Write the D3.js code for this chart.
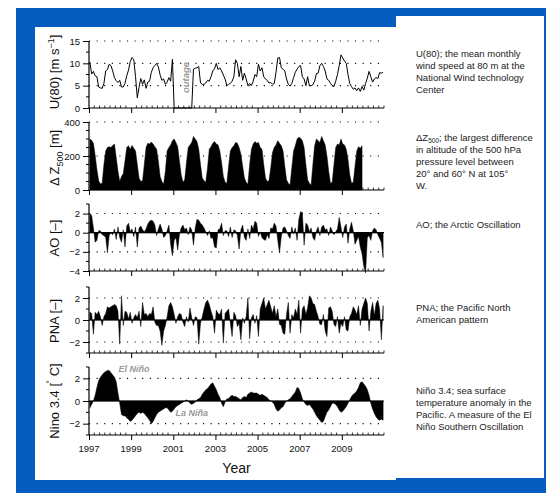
<!DOCTYPE html>
<html><head><meta charset="utf-8">
<script src="https://cdn.jsdelivr.net/npm/d3@7"></script>
<style>body{margin:0;background:#fff}svg{display:block;font-family:"Liberation Sans",Arial,Helvetica,sans-serif}</style>
</head><body><svg id="c" width="546" height="493"></svg>
<script>
// ---------------- data (monthly, Jan 1997 onward) ----------------
const startYear = 1997;
const xTickYears = [1997, 1999, 2001, 2003, 2005, 2007, 2009];

const u80 = [
 10.3, 7.6, 8.2, 7.2, 7.0, 4.7, 4.5, 4.4, 5.5, 8.3, 8.6, 9.8,
 9.5, 8.3, 6.8, 6.1, 5.7, 6.2, 4.7, 4.7, 5.5, 7.2, 8.5, 10.4,
 11.3, 10.8, 7.0, 2.3, 4.6, 6.6, 5.3, 6.3, 4.4, 5.8, 6.0, 8.0,
 9.0, 9.5, 10.0, 9.2, 7.4, 6.2, 6.5, 5.3, 5.8, 6.8, 6.0, 10.9,
 0, 0, 0, 0, 0, 0, 0, 0, 0, 0, 0, 8.7,
 8.9, 9.0, 9.3, 5.6, 5.3, 5.3, 5.6, 6.2, 6.0, 7.0, 8.3, 8.8,
 10.0, 8.6, 9.0, 8.3, 7.4, 6.5, 5.0, 5.3, 5.5, 6.0, 7.0, 10.8,
 10.0, 7.0, 9.3, 6.2, 7.8, 6.5, 5.0, 5.5, 5.0, 6.0, 7.5, 7.0,
 9.8, 8.3, 9.0, 7.0, 6.5, 6.2, 5.6, 5.7, 5.3, 5.5, 8.0, 11.2,
 11.3, 9.0, 8.7, 8.3, 6.5, 5.3, 4.9, 5.5, 6.8, 8.0, 8.7, 9.3,
 9.5, 7.0, 6.5, 5.0, 7.0, 5.0, 5.0, 5.2, 6.0, 7.7, 7.8, 9.5,
 10.0, 9.3, 8.3, 6.5, 6.2, 5.5, 5.0, 4.8, 6.0, 7.5, 9.5, 11.9,
 11.2, 10.5, 10.0, 7.5, 5.5, 4.8, 4.2, 4.5, 3.9, 4.5, 3.7, 4.8,
 4.0, 5.5, 6.7, 8.2, 7.0, 5.8, 6.5, 6.8, 6.6, 7.9, 7.8, 8.0
];

const dz500 = [
 300, 292, 275, 205, 120, 55, 35, 40, 150, 230, 250, 255,
 250, 262, 270, 190, 110, 50, 80, 95, 170, 250, 260, 240,
 262, 245, 230, 150, 70, 50, 55, 150, 250, 275, 270, 282,
 270, 255, 240, 170, 80, 50, 35, 110, 230, 250, 265, 290,
 300, 280, 255, 170, 90, 45, 60, 160, 250, 265, 280, 315,
 300, 285, 240, 150, 70, 55, 45, 130, 240, 255, 275, 285,
 270, 265, 230, 160, 80, 45, 40, 140, 230, 250, 260, 280,
 275, 250, 210, 140, 70, 45, 35, 150, 240, 270, 285, 275,
 280, 250, 240, 150, 70, 50, 55, 130, 220, 250, 265, 290,
 275, 260, 230, 140, 60, 40, 30, 130, 230, 260, 300, 310,
 305, 290, 250, 150, 60, 40, 30, 150, 260, 300, 290, 280,
 315, 290, 265, 200, 110, 40, 45, 150, 250, 270, 265, 300,
 270, 265, 240, 180, 90, 40, 45, 140, 230, 255, 245, 260
];

const ao = [
 2.0, 1.8, 0.5, -1.0, -0.8, 0.2, 0.2, -0.2, -0.3, -0.5,
 -2.1, -0.3, 0.0, -0.2, 0.4, -0.7, 0.6, -0.5, -1.0, 0.3,
 -1.5, 0.7, 1.0, 0.1, 0.4, -0.4, 0.6, -1.5, 0.5, 0.7,
 0.3, 0.1, 0.4, 0.9, 1.2, 1.3, 1.2, 0.8, -0.3, 0.4,
 0.9, 0.4, -0.5, -0.3, 0.2, 0.8, -1.2, -2.4, -0.8, -0.5,
 -1.8, -0.2, 0.5, 0.8, 0.3, 0.5, -0.2, 0.6, 0.3, -1.3,
 0.5, 1.4, 1.3, 1.0, 0.8, 0.5, 0.1, -0.3, 0.2, -0.6,
 -0.5, -1.5, -1.6, 0.3, 0.4, 1.0, -0.3, 0.2, 0.2, -0.4,
 0.6, -0.5, 0.3, 0.2, -0.3, -1.7, 0.3, 0.8, -0.5, -0.8,
 0.4, -0.6, 0.8, 0.4, 1.2, 1.0, -0.4, 0.1, -0.5, -0.7,
 -0.8, -0.2, -0.6, 0.5, 0.4, 1.0, 0.7, -0.8, -2.1, -0.4,
 0.5, 0.6, 0.2, -0.3, -0.6, 0.6, -0.1, 0.5, -0.8, 1.4,
 2.2, 2.1, -1.3, 1.0, 0.8, 0.1, 0.5, -0.5, -0.8, 0.2,
 0.6, -0.3, 0.6, 0.8, 0.3, 0.4, -0.3, 0.6, 0.2, -0.2,
 0.1, 0.4, 1.6, 0.6, -0.5, 0.6, 0.9, -1.1, 0.4, 1.1,
 0.2, -1.2, -0.8, -0.4, -1.5, -2.2, -3.5, -4.2, -0.5, -0.3,
 -0.8, 0.2, 0.5, 0.3, -0.2, -0.6, -1.0, -2.6
];

const pna = [
 0.7, 0.6, -1.3, 0.7, 0.5, 0.8, 0.3, -0.5, 0.3, 0.6,
 1.2, 1.1, 1.2, 1.3, 1.4, 1.3, 0.8, -2.2, 2.2, -0.5,
 0.8, 0.7, 0.1, 0.7, -0.3, 0.2, 0.5, 0.2, 0.8, -0.6,
 1.6, 0.5, 0.6, 0.3, 0.6, 0.5, 1.2, -0.2, -0.5, -0.5,
 -1.0, -2.3, -1.0, -0.5, 0.3, 1.3, 1.6, 1.2, 0.5, -0.3,
 0.3, 0.6, 0.5, -0.2, -0.6, 0.3, -0.2, 1.1, 0.2, -0.5,
 0.3, 0.2, -2.2, -0.3, 0.3, 1.0, 1.6, 1.8, 1.4, 0.8,
 0.3, -1.2, 0.9, 0.6, 0.5, 1.0, -2.1, 0.6, 0.8, 1.0,
 -0.3, -1.5, 0.7, 0.4, -0.6, -0.3, -1.8, 0.2, -0.3, 0.3,
 2.0, -1.7, 0.2, 0.5, -0.3, 0.4, -1.5, 1.0, 1.5, 2.0,
 1.0, 1.4, 1.8, 1.2, 0.6, 1.3, 0.3, 1.0, -0.4, -0.5,
 -1.2, -1.3, 0.5, 1.6, -1.2, 0.5, 0.2, 1.0, 0.5, 1.8,
 -1.2, 1.0, 1.3, 0.5, 1.1, 2.2, 2.0, 1.5, 1.4, 0.8,
 0.3, -0.4, -0.4, 0.5, -1.0, -1.5, 1.1, 1.2, 0.8, -0.4,
 -0.6, 0.3, -1.2, -0.3, -0.6, 0.3, -0.9, -1.0, 0.3, 0.6,
 1.2, 0.9, 0.5, 1.3, -0.5, 1.0, 1.5, 2.0, 1.5, -1.0,
 0.8, 1.6, 0.4, 1.5, 1.8, 1.0, -1.8, 1.3
];

const nino34 = [
 -0.6, -0.3, 0.0, 0.5, 1.2, 1.8, 2.1, 2.3, 2.5, 2.6, 2.7, 2.7,
 2.5, 2.3, 2.1, 1.7, 0.7, -0.2, -1.2, -1.3, -1.3, -1.5, -1.6, -1.8,
 -1.7, -1.5, -1.3, -1.1, -1.0, -1.1, -1.0, -1.1, -1.3, -1.5, -1.7, -2.0,
 -1.8, -1.5, -1.2, -1.0, -0.9, -0.8, -0.7, -0.6, -0.6, -0.8, -1.0, -0.9,
 -0.7, -0.5, -0.4, -0.3, -0.2, -0.1, 0.0, 0.1, 0.0, -0.2, -0.3, -0.2,
 -0.1, 0.1, 0.2, 0.3, 0.6, 0.8, 1.0, 1.1, 1.3, 1.5, 1.6, 1.3,
 1.0, 0.6, 0.3, -0.2, -0.5, -0.1, 0.2, 0.2, 0.4, 0.5, 0.4, 0.4,
 0.3, 0.2, 0.1, 0.3, 0.4, 0.3, 0.6, 0.7, 0.8, 0.7, 0.7, 0.7,
 0.6, 0.5, 0.6, 0.5, 0.4, 0.3, 0.1, 0.0, -0.1, -0.3, -0.7, -0.9,
 -0.8, -0.6, -0.5, -0.2, 0.0, 0.1, 0.2, 0.4, 0.6, 0.8, 1.2, 1.1,
 0.7, 0.2, -0.1, -0.3, -0.4, -0.3, -0.5, -0.7, -1.0, -1.3, -1.5, -1.7,
 -1.9, -1.8, -1.4, -1.0, -0.8, -0.5, -0.2, -0.2, -0.3, -0.5, -0.8, -1.0,
 -0.9, -0.7, -0.5, -0.2, 0.1, 0.4, 0.6, 0.7, 0.9, 1.2, 1.6, 1.7,
 1.5, 1.3, 1.0, 0.5, -0.2, -0.7, -1.1, -1.4, -1.6, -1.7, -1.6, -1.7
];

const uTicks = [0, 5, 10, 15];
const dzTicks = [0, 200, 400];
const aoTicks = [-4, -2, 0, 2];
const pnaTicks = [-2, 0, 2];
const ninoTicks = [-2, 0, 2];

const descU = ["U(80); the mean monthly", "wind speed at 80 m at the", "National Wind technology", "Center"];
const descAO = ["AO; the Arctic Oscillation"];
const descPNA = ["PNA; the Pacific North", "American pattern"];
const descNino = ["Niño 3.4; sea surface", "temperature anomaly in the", "Pacific. A measure of the El", "Niño Southern Oscillation"];

// ---------------- drawing ----------------
const svg = d3.select("#c");
const blue = "#065dbf";
svg.append("rect").attr("x", 16).attr("y", 8).attr("width", 530).attr("height", 485).attr("fill", blue);
svg.append("rect").attr("x", 35).attr("y", 27).attr("width", 361).attr("height", 453).attr("fill", "#fff");
svg.append("rect").attr("x", 396).attr("y", 16).attr("width", 148).attr("height", 462).attr("fill", "#fff");

const x = d3.scaleLinear().domain([1997, 2011]).range([89, 384]);
const tOf = i => startYear + i / 12 + 1 / 24;

const panels = [
  {key: "u", data: u80, dom: [0, 15], rng: [108, 41], ticks: uTicks, minor: 2.5, grid: [5, 10, 15], type: "line"},
  {key: "dz", data: dz500, dom: [0, 400], rng: [190, 122], ticks: dzTicks, minor: 50, grid: [200, 400], type: "area"},
  {key: "ao", data: ao, dom: [-4, 3], rng: [271, 204], ticks: aoTicks, minor: 1, grid: [-2, 2], type: "area"},
  {key: "pna", data: pna, dom: [-3, 3], rng: [353, 287], ticks: pnaTicks, minor: 1, grid: [-2, 2], type: "area"},
  {key: "nino", data: nino34, dom: [-3, 3], rng: [435, 367], ticks: ninoTicks, minor: 1, grid: [-2, 2], type: "area"}
];

panels.forEach(p => {
  const y = d3.scaleLinear().domain(p.dom).range(p.rng);
  p.y = y;
  const g = svg.append("g");
  p.grid.forEach(v => {
    g.append("line").attr("x1", x(1997)).attr("x2", x(2011)).attr("y1", y(v)).attr("y2", y(v))
      .attr("stroke", "#000").attr("stroke-width", 1.1).attr("stroke-dasharray", "1.1,6.5");
  });
  if (p.type === "line") {
    const line = d3.line().x((d, i) => x(tOf(i))).y(d => y(d));
    g.append("path").datum(p.data).attr("d", line).attr("fill", "none").attr("stroke", "#000").attr("stroke-width", 1);
  } else {
    const base = Math.max(p.dom[0], 0);
    const area = d3.area().x((d, i) => x(tOf(i))).y0(y(base)).y1(d => y(d));
    g.append("path").datum(p.data).attr("d", area).attr("fill", "#000").attr("stroke", "#000").attr("stroke-width", 0.5);
    if (p.dom[0] < 0) {
      g.append("line").attr("x1", x(1997)).attr("x2", x(2011)).attr("y1", y(0)).attr("y2", y(0))
        .attr("stroke", "#000").attr("stroke-width", 1.2);
    }
  }
  const yAxis = d3.axisLeft(y).tickValues(p.ticks).tickSize(6).tickPadding(3)
    .tickFormat(d => d < 0 ? "\u2212" + Math.abs(d) : d);
  const ya = g.append("g").attr("transform", `translate(${x(1997)},0)`).call(yAxis);
  ya.select(".domain").attr("d", `M0,${p.rng[0]}V${p.rng[1]}`).attr("stroke-width", 1.2);
  ya.selectAll("text").attr("font-size", 9.5).attr("font-family", "Liberation Sans, Arial, sans-serif").attr("fill", "#111");
  const minorVals = d3.range(p.dom[0], p.dom[1] + 1e-9, p.minor).filter(v => !p.ticks.includes(v));
  g.selectAll(null).data(minorVals).join("line")
    .attr("x1", x(1997) - 3).attr("x2", x(1997)).attr("y1", d => y(d)).attr("y2", d => y(d))
    .attr("stroke", "#000").attr("stroke-width", 1);
  const yb = p.rng[0];
  g.append("line").attr("x1", x(1997)).attr("x2", x(2011)).attr("y1", yb).attr("y2", yb)
    .attr("stroke", "#000").attr("stroke-width", 1.2);
  const xAxis = d3.axisBottom(x).tickValues(xTickYears).tickSize(5).tickFormat("");
  const xa = g.append("g").attr("transform", `translate(0,${yb})`).call(xAxis);
  xa.select(".domain").remove();
  const qs = d3.range(1997, 2011.001, 0.25).filter(v => !xTickYears.includes(v));
  g.selectAll(null).data(qs).join("line")
    .attr("x1", d => x(d)).attr("x2", d => x(d)).attr("y1", yb).attr("y2", yb - 2.5)
    .attr("stroke", "#000").attr("stroke-width", 0.8);
});

const bottomY = panels[4].rng[0];
svg.selectAll(null).data(xTickYears).join("text")
  .attr("x", d => x(d)).attr("y", bottomY + 17).attr("text-anchor", "middle")
  .attr("font-size", 9.5).attr("fill", "#111").text(d => d);
svg.append("text").attr("x", (x(1997) + x(2011)) / 2).attr("y", 473).attr("text-anchor", "middle")
  .attr("font-size", 14).attr("fill", "#111").text("Year");

function vtitle(cy, build) {
  const t = svg.append("text").attr("transform", `translate(59,${cy}) rotate(-90)`)
    .attr("text-anchor", "middle").attr("font-size", 13).attr("fill", "#111");
  build(t);
}
vtitle(72, t => { t.append("tspan").text("U(80) [m s"); t.append("tspan").attr("dy", -5).attr("font-size", 9).text("\u22121"); t.append("tspan").attr("dy", 5).text("]"); });
vtitle(158, t => { t.append("tspan").text("\u0394 Z"); t.append("tspan").attr("dy", 4).attr("font-size", 9).text("500"); t.append("tspan").attr("dy", -4).text(" [m]"); });
vtitle(238, t => t.text("AO [\u2013]"));
vtitle(321, t => t.text("PNA [\u2013]"));
vtitle(401, t => { t.append("tspan").text("Nino 3.4 ["); t.append("tspan").attr("dy", -5).attr("font-size", 9).text("\u02da"); t.append("tspan").attr("dy", 5).text(" C]"); });

const pU = panels[0], pN = panels[4];
svg.append("text").attr("transform", `translate(189,${(pU.rng[0] + pU.rng[1]) / 2 + 3}) rotate(-90)`)
  .attr("text-anchor", "middle").attr("font-size", 9.5).attr("font-style", "italic").attr("font-weight", "bold")
  .attr("fill", "#999").text("outage");
svg.append("text").attr("x", x(1998.4)).attr("y", pN.y(2.55))
  .attr("font-size", 9).attr("font-style", "italic").attr("font-weight", "bold").attr("fill", "#999").text("El Niño");
svg.append("text").attr("x", x(2001.1)).attr("y", pN.y(-1.35))
  .attr("font-size", 9).attr("font-style", "italic").attr("font-weight", "bold").attr("fill", "#999").text("La Niña");

function desc(lines, y0) {
  const t = svg.append("text").attr("x", 416).attr("y", y0).attr("font-size", 9.5).attr("fill", "#222");
  lines.forEach((l, i) => t.append("tspan").attr("x", 416).attr("y", y0 + i * 12).text(l));
  return t;
}
desc(descU, 57);
{
  const y0 = 141;
  const t = svg.append("text").attr("font-size", 9.5).attr("fill", "#222");
  const l1 = t.append("tspan").attr("x", 416).attr("y", y0);
  l1.append("tspan").text("\u0394Z");
  l1.append("tspan").attr("font-size", 6.5).attr("dy", 2).text("500");
  l1.append("tspan").attr("dy", -2).text("; the largest difference");
  ["in altitude of the 500 hPa", "pressure level between", "20\u00b0   and 60\u00b0   N at 105\u00b0", "W."]
    .forEach((l, i) => t.append("tspan").attr("x", 416).attr("y", y0 + (i + 1) * 12).text(l));
}
desc(descAO, 228);
desc(descPNA, 311);
desc(descNino, 394);
</script>
</body></html>
